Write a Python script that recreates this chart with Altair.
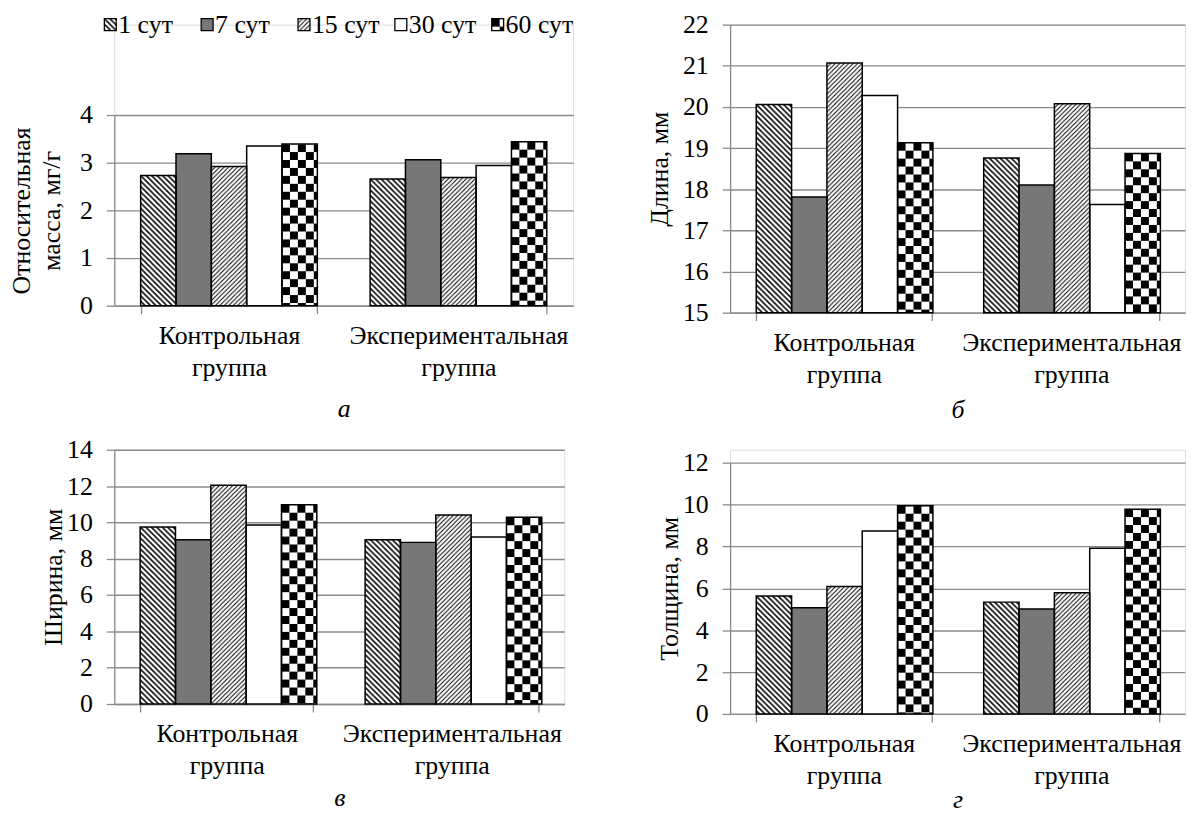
import base64
import altair as alt
import pandas as pd

# ---------------- data ----------------
categories = ["Контрольная группа", "Экспериментальная группа"]
series = ["1 сут", "7 сут", "15 сут", "30 сут", "60 сут"]

mass_control = [2.73, 3.19, 2.92, 3.35, 3.39]
mass_experimental = [2.66, 3.06, 2.69, 2.94, 3.44]
length_control = [20.06, 17.81, 21.07, 20.28, 19.13]
length_experimental = [18.76, 18.10, 20.08, 17.63, 18.87]
width_control = [9.75, 9.04, 12.05, 9.86, 10.97]
width_experimental = [9.04, 8.90, 10.41, 9.20, 10.28]
thickness_control = [5.63, 5.07, 6.09, 8.74, 9.94]
thickness_experimental = [5.34, 5.01, 5.79, 7.91, 9.78]

mass_ticks = [0, 1, 2, 3, 4]
length_ticks = [15, 16, 17, 18, 19, 20, 21, 22]
width_ticks = [0, 2, 4, 6, 8, 10, 12, 14]
thickness_ticks = [0, 2, 4, 6, 8, 10, 12]

panel_letters = ["а", "б", "в", "г"]
y_titles = [["Относительная", "масса, мг/г"], "Длина, мм", "Ширина, мм", "Толщина, мм"]

FONT = "Liberation Serif, Times New Roman, serif"
GRID = "#8a8a8a"
FS = 26


# ---------------- fill patterns (SVG images) ----------------
def svg_uri(defs, fill):
    svg = ('<svg xmlns="http://www.w3.org/2000/svg" width="100%" height="100%">'
           f'<defs>{defs}</defs>'
           f'<rect x="0" y="0" width="100%" height="100%" fill="{fill}"/></svg>')
    return "data:image/svg+xml;base64," + base64.b64encode(svg.encode("utf-8")).decode("ascii")


hatch_down = ('<pattern id="p" patternUnits="userSpaceOnUse" width="5.5" height="5.5">'
              '<rect width="5.5" height="5.5" fill="#fff"/>'
              '<path d="M-1,-1 L6.5,6.5 M-1,4.5 L1,6.5 M4.5,-1 L6.5,1" stroke="#000" stroke-width="1.5"/>'
              '</pattern>')
hatch_up = ('<pattern id="p" patternUnits="userSpaceOnUse" width="4.5" height="4.5">'
            '<rect width="4.5" height="4.5" fill="#fff"/>'
            '<path d="M-1,5.5 L5.5,-1 M-1,1 L1,-1 M3.5,5.5 L5.5,3.5" stroke="#000" stroke-width="1.0"/>'
            '</pattern>')
checker = ('<pattern id="p" patternUnits="userSpaceOnUse" width="16" height="16">'
           '<rect width="16" height="16" fill="#fff"/>'
           '<rect x="0" y="0" width="8" height="8" fill="#000"/>'
           '<rect x="8" y="8" width="8" height="8" fill="#000"/>'
           '</pattern>')

pattern_urls = {
    "1 сут": svg_uri(hatch_down, "url(#p)"),
    "7 сут": svg_uri("", "#777777"),
    "15 сут": svg_uri(hatch_up, "url(#p)"),
    "30 сут": svg_uri("", "#ffffff"),
    "60 сут": svg_uri(checker, "url(#p)"),
}


def make_df(vals_c, vals_e):
    rows = []
    for cat, vals in zip(categories, [vals_c, vals_e]):
        for s, v in zip(series, vals):
            rows.append({"group": cat, "series": s, "value": v, "url": pattern_urls[s]})
    return pd.DataFrame(rows)


def panel(vals_c, vals_e, ticks, ytitle, letter, width, height, yrange=None,
          ytitle_pad=10, xtitle_pad=10, legend=False):
    df = make_df(vals_c, vals_e)
    sc = dict(domain=[ticks[0], ticks[-1]], nice=False, zero=False)
    if yrange is not None:
        sc["range"] = yrange
    x = alt.X("group:N", sort=categories,
              scale=alt.Scale(paddingInner=0.23, paddingOuter=0.115),
              axis=alt.Axis(title=letter, labelAngle=0, labelExpr="split(datum.label, ' ')",
                            labelFont=FONT, labelFontSize=FS, labelColor="black",
                            labelLineHeight=32, labelPadding=9, labelLimit=0,
                            tickBand="extent", tickSize=8, tickColor=GRID, tickWidth=1.3,
                            domainColor=GRID, domainWidth=1.3,
                            titleFont=FONT, titleFontSize=FS, titleFontStyle="italic",
                            titleFontWeight="normal", titleColor="black",
                            titlePadding=xtitle_pad))
    xo = alt.XOffset("series:N", sort=series, scale=alt.Scale(paddingInner=0, paddingOuter=0))
    y = alt.Y("value:Q", scale=alt.Scale(**sc),
              axis=alt.Axis(values=ticks, title=ytitle, grid=True, gridColor=GRID, gridWidth=1.3,
                            domainColor=GRID, domainWidth=1.3, tickColor=GRID, tickWidth=1.3,
                            tickSize=8, labelFont=FONT, labelFontSize=FS, labelColor="black",
                            labelPadding=14, titleFont=FONT, titleFontSize=FS,
                            titleFontWeight="normal", titleColor="black",
                            titleLineHeight=30, titlePadding=ytitle_pad))
    base = alt.Chart(df)
    img = base.mark_image(aspect=False).encode(
        x=x, xOffset=xo, y=y, y2=alt.datum(ticks[0]), url="url:N")
    outline = base.mark_bar(fillOpacity=0, stroke="black", strokeWidth=1.5).encode(
        x=x, xOffset=xo, y=y, y2=alt.datum(ticks[0]))
    bars = alt.layer(img, outline)
    if legend:
        leg_df = pd.DataFrame({"series": series, "url": [pattern_urls[s] for s in series]})
        lx = alt.X("series:N", sort=series,
                   scale=alt.Scale(type="point", range=[-4, 386], padding=0), axis=None)
        ly = alt.value(0)
        leg_img = alt.Chart(leg_df).mark_image(width=12, height=12, aspect=False).encode(
            x=lx, y=ly, url="url:N")
        leg_box = alt.Chart(leg_df).mark_rect(width=12, height=12, fillOpacity=0,
                                              stroke="black", strokeWidth=1.3).encode(x=lx, y=ly)
        leg_txt = alt.Chart(leg_df).mark_text(align="left", baseline="middle", dx=8,
                                              font=FONT, fontSize=FS, color="black").encode(
            x=lx, y=ly, text="series:N")
        leg = alt.layer(leg_img, leg_box, leg_txt)
        out = alt.layer(bars, leg).resolve_scale(x="independent")
    else:
        out = bars
    return out.properties(width=width, height=height)


pa = panel(mass_control, mass_experimental, mass_ticks, y_titles[0], panel_letters[0],
           462, 283, yrange=[283, 91], ytitle_pad=15, xtitle_pad=16, legend=True)
pb = panel(length_control, length_experimental, length_ticks, y_titles[1], panel_letters[1],
           458, 290, ytitle_pad=10, xtitle_pad=10)
pc = panel(width_control, width_experimental, width_ticks, y_titles[2], panel_letters[2],
           453, 256, ytitle_pad=0, xtitle_pad=6)
pd_ = panel(thickness_control, thickness_experimental, thickness_ticks, y_titles[3],
            panel_letters[3], 458, 266, yrange=[266, 13], ytitle_pad=0, xtitle_pad=-2)

chart = alt.concat(pa, pb, pc, pd_, columns=2, spacing={"row": 138, "column": 158},
                   bounds="flush").properties(
    padding={"left": 0, "top": 0, "right": 0, "bottom": 0}
).configure_view(stroke=None).configure(background="white")

chart.save("out.html", embed_options={"renderer": "svg", "actions": False})
